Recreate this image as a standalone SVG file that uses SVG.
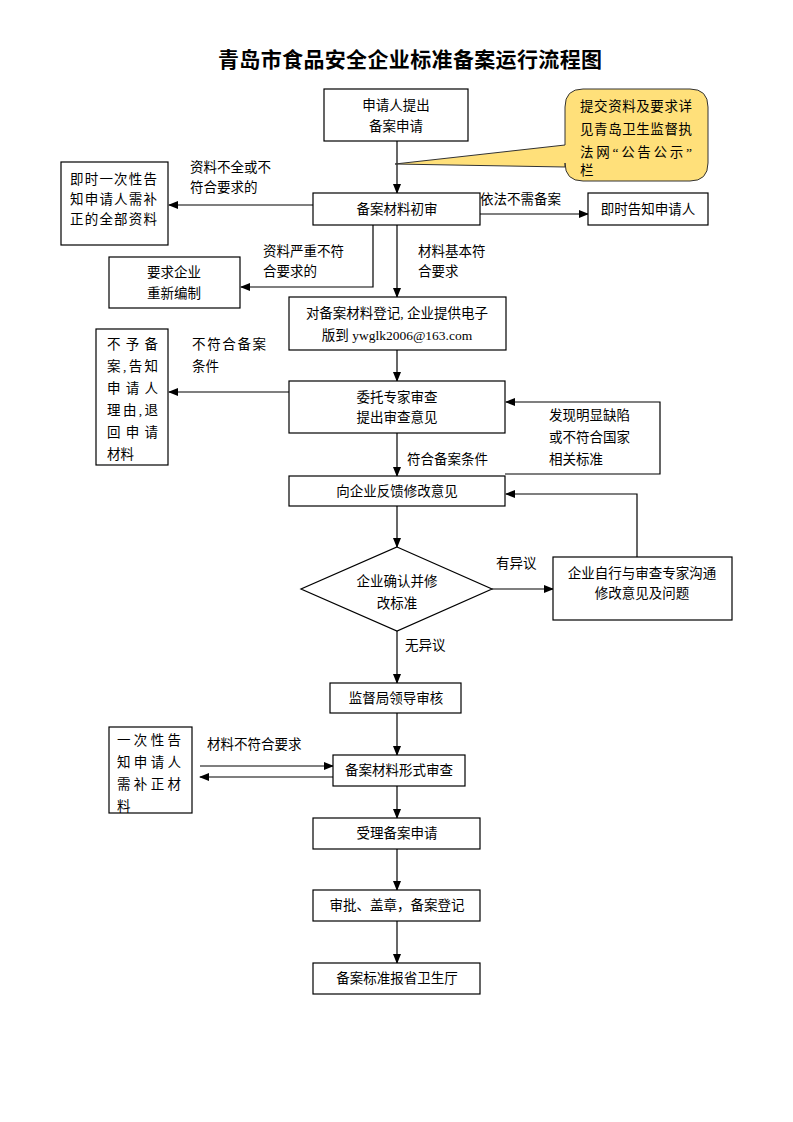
<svg xmlns="http://www.w3.org/2000/svg" width="793" height="1122" viewBox="0 0 793 1122">
<style>
.b{fill:#fff;stroke:#000;stroke-width:1.2}
.t{font-family:"Liberation Serif","Noto Sans CJK SC",serif;font-size:13.5px;fill:#000}
.c{text-anchor:middle}
.l{fill:none;stroke:#000;stroke-width:1.2}
.title{font-family:"Noto Sans CJK SC",sans-serif;font-size:21px;font-weight:bold;text-anchor:middle}
</style>
<defs>
<marker id="a" markerWidth="10" markerHeight="8" refX="9" refY="4" orient="auto" markerUnits="userSpaceOnUse">
<path d="M0,0 L10,4 L0,8 z" fill="#000"/>
</marker>
</defs>
<rect width="793" height="1122" fill="#fff"/>
<text class="title" x="410" y="67" textLength="384" lengthAdjust="spacing">青岛市食品安全企业标准备案运行流程图</text>

<g id="connectors">
<path class="l" d="M397,141 V193" marker-end="url(#a)"/>
<path class="l" d="M480,214 H588" marker-end="url(#a)"/>
<path class="l" d="M313,205 H169" marker-end="url(#a)"/>
<path class="l" d="M373,225 V287 H241" marker-end="url(#a)"/>
<path class="l" d="M397,225 V297" marker-end="url(#a)"/>
<path class="l" d="M397,350 V381" marker-end="url(#a)"/>
<path class="l" d="M289,392 H169" marker-end="url(#a)"/>
<path class="l" d="M505,474 H660 V402 H506" marker-end="url(#a)"/>
<path class="l" d="M397,433 V476" marker-end="url(#a)"/>
<path class="l" d="M397,506 V547" marker-end="url(#a)"/>
<path class="l" d="M492,589 H553" marker-end="url(#a)"/>
<path class="l" d="M637,557 V494 H506" marker-end="url(#a)"/>
<path class="l" d="M397,631 V683" marker-end="url(#a)"/>
<path class="l" d="M397,713 V755" marker-end="url(#a)"/>
<path class="l" d="M200,766 H333" marker-end="url(#a)"/>
<path class="l" d="M333,777 H200" marker-end="url(#a)"/>
<path class="l" d="M397,786 V818" marker-end="url(#a)"/>
<path class="l" d="M397,849 V890" marker-end="url(#a)"/>
<path class="l" d="M397,921 V963" marker-end="url(#a)"/>
</g>

<g id="edge-labels">
<text class="t" x="190" y="172">资料不全或不</text>
<text class="t" x="190" y="192">符合要求的</text>
<text class="t" x="480" y="204">依法不需备案</text>
<text class="t" x="263" y="256">资料严重不符</text>
<text class="t" x="263" y="276">合要求的</text>
<text class="t" x="418" y="256">材料基本符</text>
<text class="t" x="418" y="276">合要求</text>
<text class="t" x="192" y="349" textLength="74" lengthAdjust="spacing">不符合备案</text>
<text class="t" x="192" y="371">条件</text>
<text class="t" x="549" y="420">发现明显缺陷</text>
<text class="t" x="549" y="442">或不符合国家</text>
<text class="t" x="549" y="464">相关标准</text>
<text class="t" x="407" y="464">符合备案条件</text>
<text class="t" x="496" y="568">有异议</text>
<text class="t" x="405" y="650">无异议</text>
<text class="t" x="207" y="749">材料不符合要求</text>
</g>

<g id="n-apply">
<rect class="b" x="324" y="89" width="144" height="52"/>
<text class="t c" x="396" y="110">申请人提出</text>
<text class="t c" x="396" y="131">备案申请</text>
</g>

<g id="n-callout">
<path d="M583,89 H690 Q708,89 708,107 V163 Q708,181 690,181 H583 Q565,181 565,163 V167 L395,164 L565,145 V107 Q565,89 583,89 Z" fill="#FFE07A" stroke="#333" stroke-width="1"/>
<text class="t" x="580" y="111" textLength="112" lengthAdjust="spacing">提交资料及要求详</text>
<text class="t" x="580" y="134" textLength="112" lengthAdjust="spacing">见青岛卫生监督执</text>
<text class="t" x="580" y="157" textLength="112" lengthAdjust="spacing">法网“公告公示”</text>
<text class="t" x="580" y="175">栏</text>
</g>

<g id="n-initial">
<rect class="b" x="313" y="193" width="167" height="32"/>
<text class="t c" x="397" y="214">备案材料初审</text>
</g>

<g id="n-notify">
<rect class="b" x="588" y="193" width="120" height="32"/>
<text class="t c" x="648" y="214">即时告知申请人</text>
</g>

<g id="n-supplement">
<rect class="b" x="61" y="162" width="107" height="83"/>
<text class="t" x="70" y="184" textLength="87" lengthAdjust="spacing">即时一次性告</text>
<text class="t" x="70" y="204" textLength="87" lengthAdjust="spacing">知申请人需补</text>
<text class="t" x="70" y="224" textLength="87" lengthAdjust="spacing">正的全部资料</text>
</g>

<g id="n-recompile">
<rect class="b" x="109" y="257" width="131" height="51"/>
<text class="t c" x="174" y="277">要求企业</text>
<text class="t c" x="174" y="298">重新编制</text>
</g>

<g id="n-register">
<rect class="b" x="289" y="297" width="217" height="53"/>
<text class="t c" x="397" y="318">对备案材料登记, 企业提供电子</text>
<text class="t c" x="397" y="340">版到 ywglk2006@163.com</text>
</g>

<g id="n-expert">
<rect class="b" x="289" y="381" width="216" height="52"/>
<text class="t c" x="397" y="402">委托专家审查</text>
<text class="t c" x="397" y="422">提出审查意见</text>
</g>

<g id="n-reject">
<rect class="b" x="96" y="329" width="72" height="136"/>
<text class="t" x="107" y="349" textLength="51" lengthAdjust="spacing">不予备</text>
<text class="t" x="107" y="371" textLength="51" lengthAdjust="spacing">案,告知</text>
<text class="t" x="107" y="393" textLength="51" lengthAdjust="spacing">申请人</text>
<text class="t" x="107" y="415" textLength="51" lengthAdjust="spacing">理由,退</text>
<text class="t" x="107" y="437" textLength="51" lengthAdjust="spacing">回申请</text>
<text class="t" x="107" y="459">材料</text>
</g>

<g id="n-feedback">
<rect class="b" x="289" y="476" width="216" height="30"/>
<text class="t c" x="397" y="496">向企业反馈修改意见</text>
</g>

<g id="n-confirm">
<polygon class="b" points="397,547 492,589 397,631 301,589"/>
<text class="t c" x="397" y="586">企业确认并修</text>
<text class="t c" x="397" y="608">改标准</text>
</g>

<g id="n-communicate">
<rect class="b" x="553" y="557" width="179" height="63"/>
<text class="t c" x="642" y="578">企业自行与审查专家沟通</text>
<text class="t c" x="642" y="598">修改意见及问题</text>
</g>

<g id="n-leader">
<rect class="b" x="330" y="683" width="131" height="30"/>
<text class="t c" x="396" y="703">监督局领导审核</text>
</g>

<g id="n-formal">
<rect class="b" x="333" y="755" width="132" height="31"/>
<text class="t c" x="399" y="775">备案材料形式审查</text>
</g>

<g id="n-once">
<rect class="b" x="109" y="727" width="83" height="86"/>
<text class="t" x="117" y="745" textLength="64" lengthAdjust="spacing">一次性告</text>
<text class="t" x="117" y="767" textLength="64" lengthAdjust="spacing">知申请人</text>
<text class="t" x="117" y="789" textLength="64" lengthAdjust="spacing">需补正材</text>
<text class="t" x="117" y="811">料</text>
</g>

<g id="n-accept">
<rect class="b" x="313" y="818" width="167" height="31"/>
<text class="t c" x="397" y="838">受理备案申请</text>
</g>

<g id="n-approve">
<rect class="b" x="313" y="890" width="167" height="31"/>
<text class="t c" x="397" y="910">审批、盖章，备案登记</text>
</g>

<g id="n-report">
<rect class="b" x="313" y="963" width="167" height="31"/>
<text class="t c" x="397" y="983">备案标准报省卫生厅</text>
</g>
</svg>
